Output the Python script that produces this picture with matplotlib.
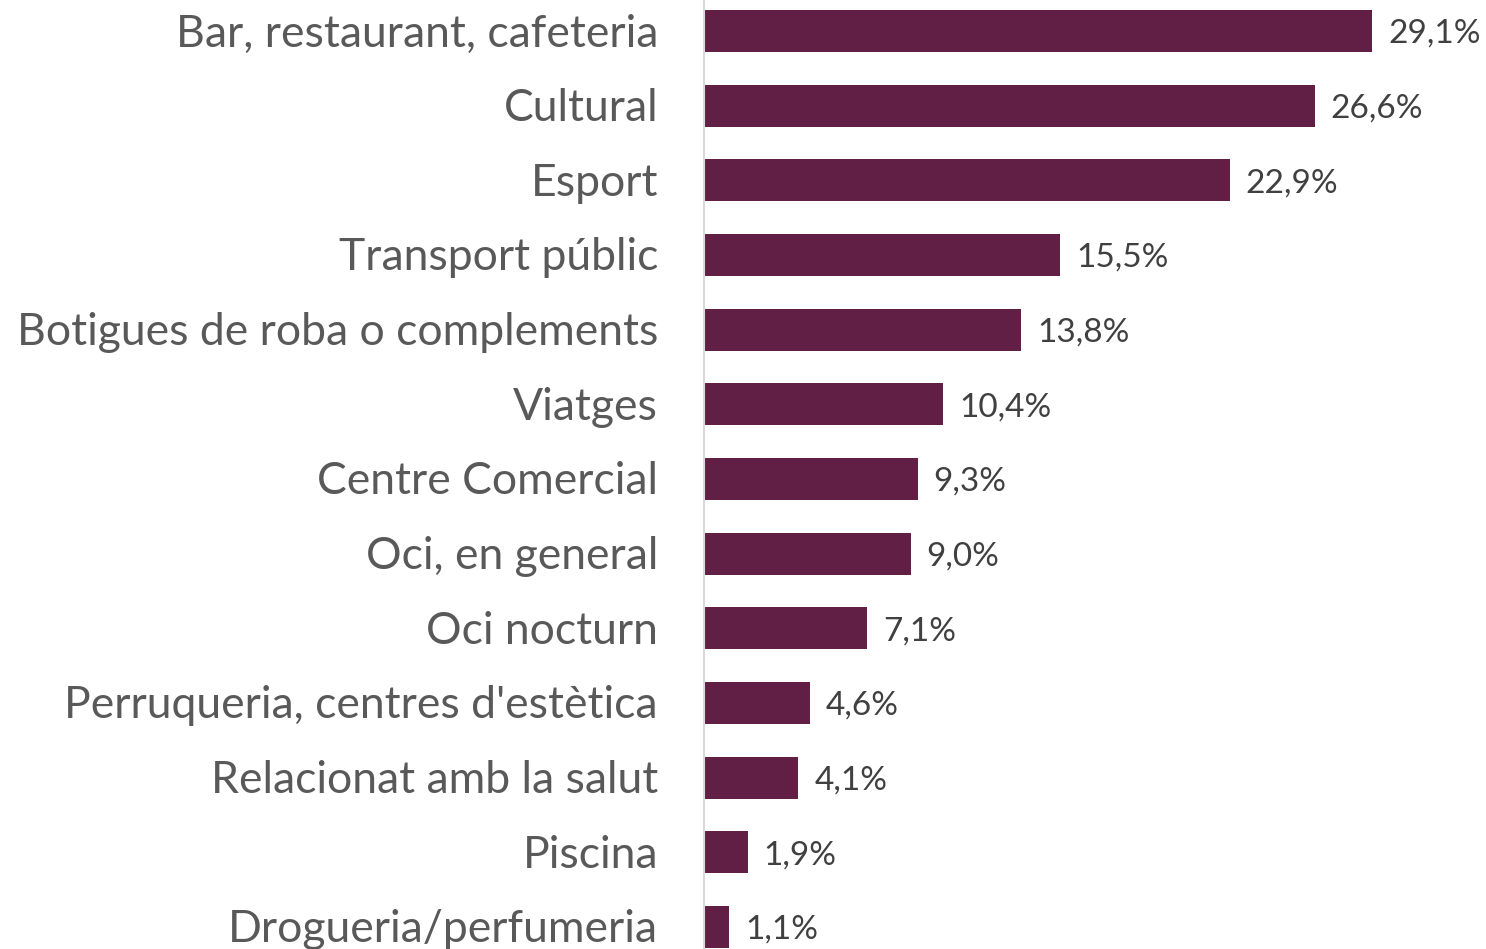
import matplotlib.pyplot as plt

categories = ["Bar, restaurant, cafeteria", "Cultural", "Esport", "Transport públic",
              "Botigues de roba o complements", "Viatges", "Centre Comercial",
              "Oci, en general", "Oci nocturn", "Perruqueria, centres d'estètica",
              "Relacionat amb la salut", "Piscina", "Drogueria/perfumeria"]
values = [29.1, 26.6, 22.9, 15.5, 13.8, 10.4, 9.3, 9.0, 7.1, 4.6, 4.1, 1.9, 1.1]

plt.rcParams['font.family'] = ['Lato', 'DejaVu Sans']

fig = plt.figure(figsize=(14.86, 9.49), dpi=100)
ax = fig.add_axes([704 / 1486, 0, 1 - 704 / 1486, 1])

y = list(range(len(categories)))
ax.barh(y, values, height=0.56, color='#611f45')
for yi, v, cat in zip(y, values, categories):
    ax.text(v + 0.7, yi + 0.04, f"{v:.1f}%".replace('.', ','), va='center', ha='left',
            fontsize=24, color='#404040')
    # category label left of the axis
    ax.annotate(cat, xy=(0, yi), xytext=(-46, -3), textcoords='offset pixels',
                ha='right', va='center', fontsize=32, color='#595959',
                annotation_clip=False)

ax.set_yticks([])
ax.set_xticks([])
ax.set_xlim(0, 34.06)
ax.set_ylim(12.295, -0.415)
for s in ['top', 'right', 'bottom']:
    ax.spines[s].set_visible(False)
ax.spines['left'].set_color('#d9d9d9')
ax.spines['left'].set_linewidth(1.5)

fig.savefig('out.png', dpi=100)
